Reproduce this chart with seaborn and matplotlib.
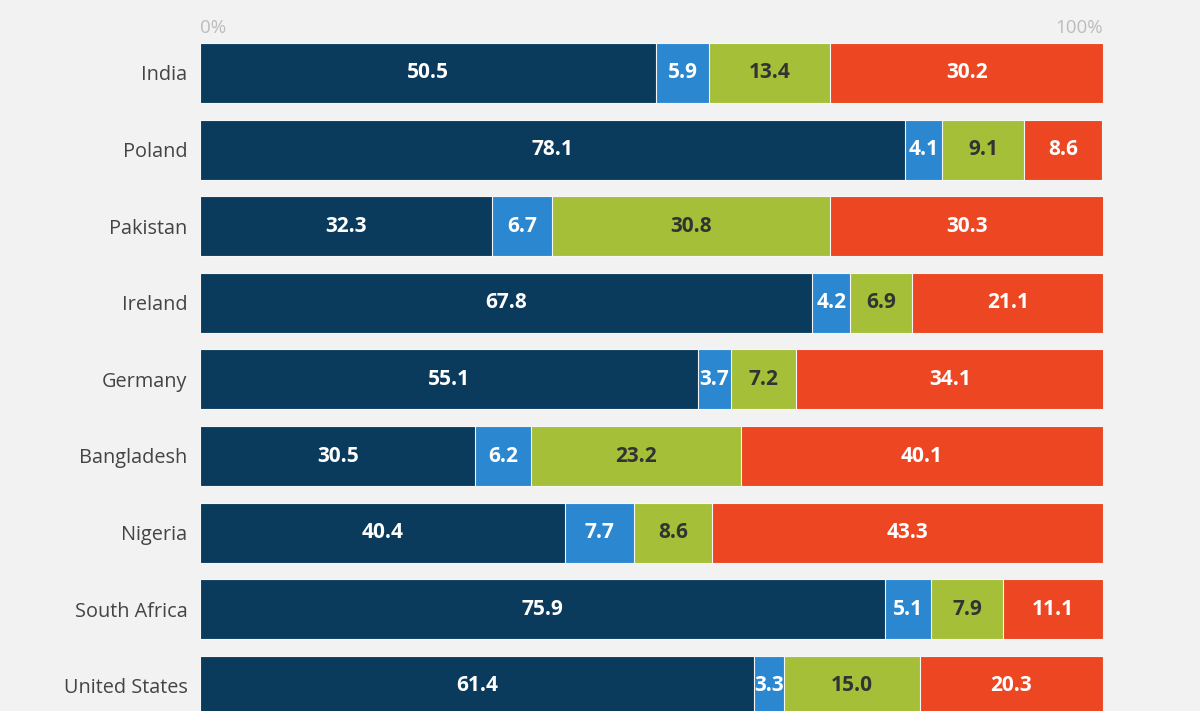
import numpy as np
import pandas as pd
import matplotlib
matplotlib.use("Agg")
import matplotlib.pyplot as plt
import seaborn as sns

countries = ["India", "Poland", "Pakistan", "Ireland", "Germany", "Bangladesh",
             "Nigeria", "South Africa", "United States"]
seg1 = [50.5, 78.1, 32.3, 67.8, 55.1, 30.5, 40.4, 75.9, 61.4]
seg2 = [5.9, 4.1, 6.7, 4.2, 3.7, 6.2, 7.7, 5.1, 3.3]
seg3 = [13.4, 9.1, 30.8, 6.9, 7.2, 23.2, 8.6, 7.9, 15.0]
seg4 = [30.2, 8.6, 30.3, 21.1, 34.1, 40.1, 43.3, 11.1, 20.3]
tick_labels = ["0%", "100%"]

colors = ["#0b3b5c", "#2b87cf", "#a5bf38", "#ec4623"]
text_colors = ["white", "white", "#333333", "white"]

sns.set_theme(style="white")
plt.rcParams["font.family"] = ["Open Sans", "DejaVu Sans"]

bg = "#f2f2f2"
fig = plt.figure(figsize=(12, 7.11), dpi=100, facecolor=bg)
top_px = 38
ax = fig.add_axes([200 / 1200, 0, 903 / 1200, (711 - top_px) / 711])
ax.set_facecolor(bg)

segs = [seg1, seg2, seg3, seg4]
cums = np.cumsum(np.array(segs), axis=0)
df = pd.DataFrame({"country": countries})
for k in range(3, -1, -1):
    df["v"] = cums[k]
    sns.barplot(data=df, x="v", y="country", orient="h", color=colors[k],
                width=60 / 76.6, saturation=1, edgecolor="#f6f6f6", linewidth=0.8,
                ax=ax, errorbar=None)

for k in range(4):
    for i in range(len(countries)):
        left = cums[k][i] - segs[k][i]
        ax.text(left + segs[k][i] / 2, i, f"{segs[k][i]:.1f}", ha="center", va="center",
                color=text_colors[k], fontsize=15, fontweight="bold")

pitch = 76.6
ax.set_ylim((711 - 73) / pitch, (top_px - 73) / pitch)
ax.set_xlim(0, 100)
ax.set_xlabel("")
ax.set_ylabel("")
for s in ax.spines.values():
    s.set_visible(False)
ax.xaxis.tick_top()
ax.set_xticks([0, 100])
ax.set_xticklabels(tick_labels)
ax.tick_params(axis="x", length=0, pad=1, labelsize=13.5, colors="#bcbcbc")
xl = ax.get_xticklabels()
xl[0].set_ha("left")
xl[1].set_ha("right")
ax.tick_params(axis="y", length=0, pad=9, labelsize=14.3, colors="#444444")

fig.savefig("out.png", dpi=100, facecolor=bg)
